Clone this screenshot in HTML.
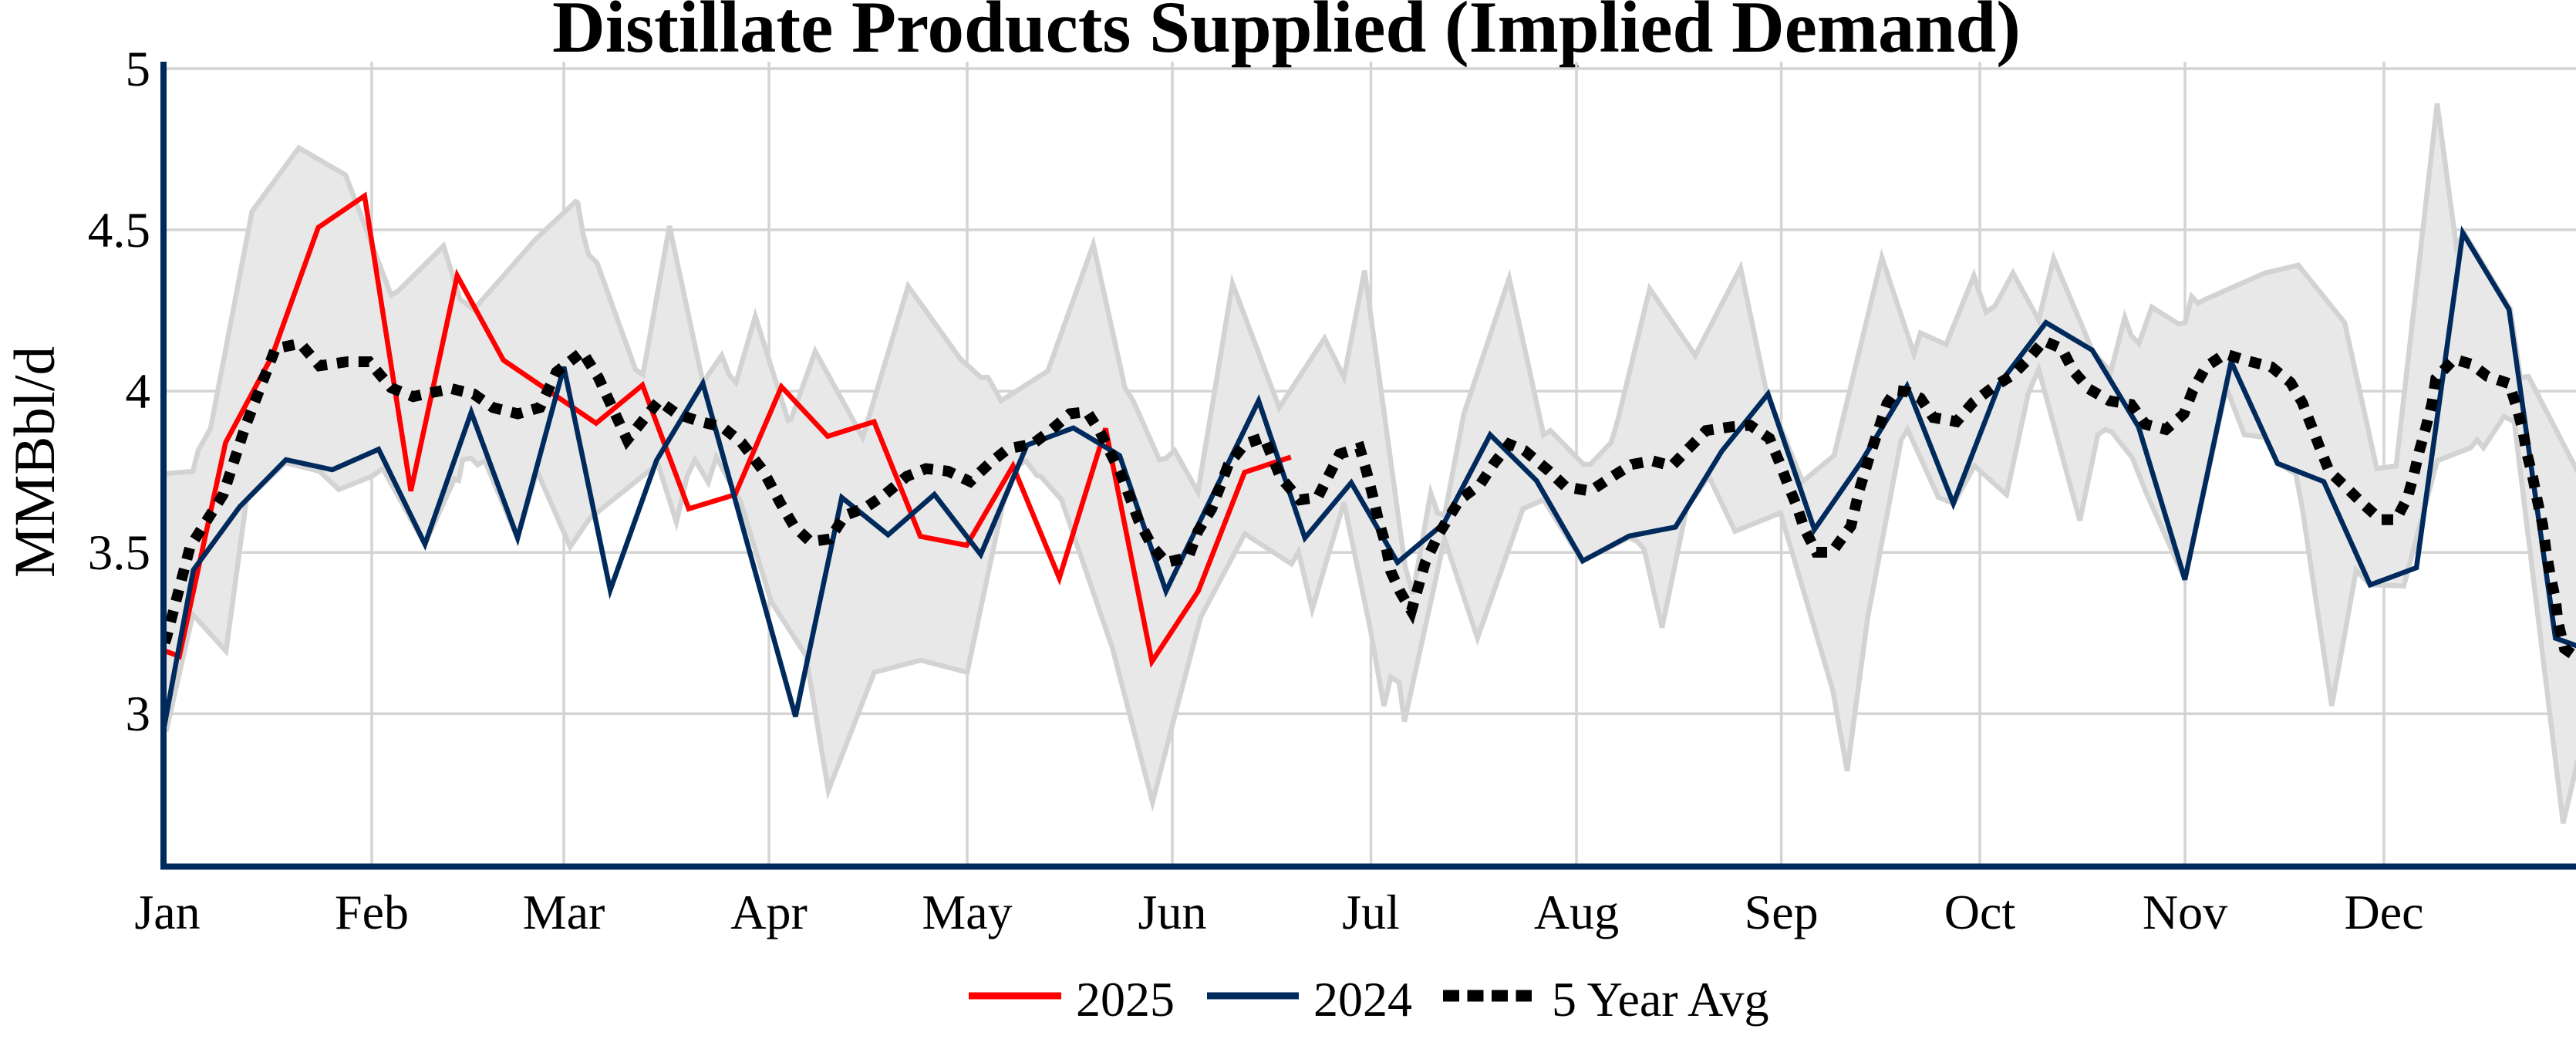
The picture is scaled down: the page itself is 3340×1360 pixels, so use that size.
<!DOCTYPE html>
<html>
<head>
<meta charset="utf-8">
<style>
  html, body { margin: 0; padding: 0; background: #ffffff; }
  svg { display: block; }
  text { font-family: "Liberation Serif", "Times New Roman", serif; fill: #000; }
</style>
</head>
<body>
<svg width="3340" height="1360" viewBox="0 0 3340 1360" xmlns="http://www.w3.org/2000/svg">
  <defs>
    <clipPath id="plot">
      <rect x="212" y="80" width="3128" height="1043"/>
    </clipPath>
  </defs>
  <rect x="0" y="0" width="3340" height="1360" fill="#ffffff"/>

  <!-- Title -->
  <text x="1668" y="67" text-anchor="middle" font-size="95" font-weight="bold">Distillate Products Supplied (Implied Demand)</text>

  <!-- Gridlines -->
  <g stroke="#d4d4d4" stroke-width="3.5" fill="none">
    <line x1="214" y1="89" x2="3340" y2="89"/>
    <line x1="214" y1="298" x2="3340" y2="298"/>
    <line x1="214" y1="507.1" x2="3340" y2="507.1"/>
    <line x1="214" y1="716.2" x2="3340" y2="716.2"/>
    <line x1="214" y1="925.3" x2="3340" y2="925.3"/>
    <line x1="482" y1="80" x2="482" y2="1121"/>
    <line x1="731" y1="80" x2="731" y2="1121"/>
    <line x1="997" y1="80" x2="997" y2="1121"/>
    <line x1="1254" y1="80" x2="1254" y2="1121"/>
    <line x1="1520" y1="80" x2="1520" y2="1121"/>
    <line x1="1777.5" y1="80" x2="1777.5" y2="1121"/>
    <line x1="2044" y1="80" x2="2044" y2="1121"/>
    <line x1="2309.6" y1="80" x2="2309.6" y2="1121"/>
    <line x1="2567" y1="80" x2="2567" y2="1121"/>
    <line x1="2833" y1="80" x2="2833" y2="1121"/>
    <line x1="3091" y1="80" x2="3091" y2="1121"/>
  </g>

  <g clip-path="url(#plot)">
    <!-- Range band fill -->
    <polygon fill="#e8e8e8" stroke="none" points="
205,614 216,614 250,611 257,584 273,555.5 326.8,274 387.5,191.7 448.2,227 507,382.4 516,377.6 575,318.8 596.4,387.8 614.3,401.3 694.6,310 746.4,261.3 749,262.7 756,303.3 763.2,330.3 774,340.5 824,479 833.6,485.8 868,293 911.4,496 935.7,460.8 945.4,485.8 954.3,496 979.3,410 1022,545.3 1025.7,543.3 1057,455.4 1118.6,567 1177.5,371 1245.4,465.5 1272,489.2 1281,489.2 1298,519.6 1358.6,481 1417.5,316.8 1458.6,502.7 1469.3,519.6 1503.2,596 1512,594 1523,584 1553.2,638 1598,367.5 1658.6,528.4 1717.5,438.5 1742.5,489.2 1769.3,350.6 1822,735 1832,770 1855,639 1864,665 1873,668 1898,536.5 1956.8,360.7 2001.4,563.6 2010.4,558.2 2053.2,602 2062,602 2089,573.7 2098,543.3 2139,374.3 2198,460.8 2256.8,347.2 2290.7,509.5 2337,624.4 2378,590.6 2440,333.7 2481.7,458.8 2490,431.7 2523.3,446.6 2559.3,357.4 2575,404.7 2586.7,396.6 2610,354 2643.3,414.8 2662.7,335 2713.3,455.4 2736.7,482.4 2755,411.4 2763.3,435 2773.3,445.3 2790,398 2825,420.2 2833.3,418.2 2841.7,384.4 2850,393.2 2860,387.8 2936.7,354 2980,343.8 3040,418.2 3081.7,607.5 3106.7,604 3160,134.2 3185,320.2 3195,302 3255,401.3 3268,490 3278.3,488 3345,617
3345,975 3323.3,1067.3 3260,546.7 3246.7,540 3220,580.5 3211.7,570.3 3203.3,580.5 3160,597.4 3116.7,759.7 3073,758.3 3055,739.4 3023.3,915.2 2985,658.2 2976.7,614.3 2953,600.8 2936.7,567 2910,563.6 2886.7,502.7 2833,751.5 2781.7,636.6 2765,594 2738.3,560.2 2730,556.8 2720,563.6 2696.7,675 2643.3,479 2630,509.5 2601.7,641.3 2560,604 2533.3,652.8 2513.3,644.7 2473.3,556.8 2465,570.3 2421.7,800.2 2395,999.7 2376.4,895 2308.6,665 2249.6,688.7 2215.7,617.7 2187,658.2 2155,813.7 2131.8,712.3 2123,702.2 2112.3,697 2051.4,727.2 2001.4,648 1974.6,659.6 1915.7,827.3 1873,698.8 1840,849 1821,935.4 1814,884.7 1803.2,878 1794.3,915.2 1776.4,813.7 1742.5,651.5 1701.4,790 1683.6,715.7 1674.6,731.2 1614,692 1556.8,800.2 1523,928.7 1494.3,1040 1442.5,840.8 1376.4,648 1349.6,617.7 1344.3,616.3 1330,597.4 1319.3,604 1300,655 1254,871.6 1194,856 1133.6,871.6 1074,1025 1045,850 1000,780 960,650 928.7,592.7 918.4,625.4 901.2,596.2 891,616.8 877,677 853,601.3 765,671.8 760,678.5 739.3,709 696.4,611 670.7,697.5 628.6,597.4 619.6,602.8 610.7,594 600,596 594.6,623 589.3,621 550.7,705.6 496.4,607.5 482,617.7 439.3,634.6 414.3,611 370,600 319.6,648 293,844.2 250,796.8 216,945.6 205,945.6"/>

    <!-- Range band edges -->
    <g fill="none" stroke="#d3d3d3" stroke-width="6.5">
      <polyline points="205,614 216,614 250,611 257,584 273,555.5 326.8,274 387.5,191.7 448.2,227 507,382.4 516,377.6 575,318.8 596.4,387.8 614.3,401.3 694.6,310 746.4,261.3 749,262.7 756,303.3 763.2,330.3 774,340.5 824,479 833.6,485.8 868,293 911.4,496 935.7,460.8 945.4,485.8 954.3,496 979.3,410 1022,545.3 1025.7,543.3 1057,455.4 1118.6,567 1177.5,371 1245.4,465.5 1272,489.2 1281,489.2 1298,519.6 1358.6,481 1417.5,316.8 1458.6,502.7 1469.3,519.6 1503.2,596 1512,594 1523,584 1553.2,638 1598,367.5 1658.6,528.4 1717.5,438.5 1742.5,489.2 1769.3,350.6 1822,735 1832,770 1855,639 1864,665 1873,668 1898,536.5 1956.8,360.7 2001.4,563.6 2010.4,558.2 2053.2,602 2062,602 2089,573.7 2098,543.3 2139,374.3 2198,460.8 2256.8,347.2 2290.7,509.5 2337,624.4 2378,590.6 2440,333.7 2481.7,458.8 2490,431.7 2523.3,446.6 2559.3,357.4 2575,404.7 2586.7,396.6 2610,354 2643.3,414.8 2662.7,335 2713.3,455.4 2736.7,482.4 2755,411.4 2763.3,435 2773.3,445.3 2790,398 2825,420.2 2833.3,418.2 2841.7,384.4 2850,393.2 2860,387.8 2936.7,354 2980,343.8 3040,418.2 3081.7,607.5 3106.7,604 3160,134.2 3185,320.2 3195,302 3255,401.3 3268,490 3278.3,488 3345,617"/>
      <polyline points="205,945.6 216,945.6 250,796.8 293,844.2 319.6,648 370,600 414.3,611 439.3,634.6 482,617.7 496.4,607.5 550.7,705.6 589.3,621 594.6,623 600,596 610.7,594 619.6,602.8 628.6,597.4 670.7,697.5 696.4,611 739.3,709 760,678.5 765,671.8 853,601.3 877,677 891,616.8 901.2,596.2 918.4,625.4 928.7,592.7 960,650 1000,780 1045,850 1074,1025 1133.6,871.6 1194,856 1254,871.6 1300,655 1319.3,604 1330,597.4 1344.3,616.3 1349.6,617.7 1376.4,648 1442.5,840.8 1494.3,1040 1523,928.7 1556.8,800.2 1614,692 1674.6,731.2 1683.6,715.7 1701.4,790 1742.5,651.5 1776.4,813.7 1794.3,915.2 1803.2,878 1814,884.7 1821,935.4 1840,849 1873,698.8 1915.7,827.3 1974.6,659.6 2001.4,648 2051.4,727.2 2112.3,697 2123,702.2 2131.8,712.3 2155,813.7 2187,658.2 2215.7,617.7 2249.6,688.7 2308.6,665 2376.4,895 2395,999.7 2421.7,800.2 2465,570.3 2473.3,556.8 2513.3,644.7 2533.3,652.8 2560,604 2601.7,641.3 2630,509.5 2643.3,479 2696.7,675 2720,563.6 2730,556.8 2738.3,560.2 2765,594 2781.7,636.6 2833,751.5 2886.7,502.7 2910,563.6 2936.7,567 2953,600.8 2976.7,614.3 2985,658.2 3023.3,915.2 3055,739.4 3073,758.3 3116.7,759.7 3160,597.4 3203.3,580.5 3211.7,570.3 3220,580.5 3246.7,540 3260,546.7 3323.3,1067.3 3345,975"/>
    </g>

    <!-- 2025 -->
    <polyline fill="none" stroke="#ff0000" stroke-width="6.5" points="172.4,828 232.5,851 292.5,573.7 352.6,462 412.6,295 472.7,254 532.7,636.6 592.8,357.4 652.8,467 712.9,507.8 772.9,548.7 833,499.3 893,659.6 953.1,641.3 1013.2,501.4 1073.2,565.6 1133.3,546.7 1193.3,695.4 1253.4,707 1313.4,604 1373.5,749.5 1433.5,555.5 1493.6,857.7 1553.6,766.4 1613.7,612.3 1673.7,592.6"/>

    <!-- 2024 -->
    <polyline fill="none" stroke="#002a5c" stroke-width="6.5" points="190.7,1061 250.7,739 310.8,657 370.8,596 430.9,609 490.9,582.5 551,705.6 611,534.5 671.1,697.5 731.1,475.7 791.2,765 851.2,597 911.3,497 971.3,713 1031.4,929 1091.4,645 1151.5,693.4 1211.5,641 1271.6,719 1331.6,577 1391.7,554.8 1451.7,590.6 1511.8,766.4 1571.8,643 1631.9,519.6 1691.9,697.5 1752,625.8 1812,729.2 1872.1,678.5 1932.1,563.6 1992.2,623.1 2052.2,727.2 2112.3,695 2172.3,683.3 2232.4,585 2292.4,510.8 2352.5,686.6 2412.5,600 2472.6,500.7 2532.6,652.8 2592.7,497.3 2652.7,418.2 2712.8,454 2772.8,553.4 2832.9,751.5 2892.9,468.9 2953,600.8 3013,624.4 3073.1,758.3 3133.1,736 3193.2,301.9 3253.2,401.3 3313.3,827.3 3373.3,849"/>

    <!-- 5 Year Avg -->
    <polyline fill="none" stroke="#000000" stroke-width="14" stroke-dasharray="15 13" points="205,860 216.1,825.9 246.4,709 289.3,641.3 317.9,553.4 357.1,452 389.3,445.3 414.3,474.3 450,469 478.6,469 507.1,502.7 535.7,514.2 557.1,509.5 585.7,504 614.3,510.8 639.3,528.4 671.4,536.5 700,528.4 721.4,482.4 755,456 775.7,489.2 813.2,570.3 854.3,519.6 877.5,536.5 907.9,546.7 936.4,553.4 961.4,573.7 990,610.9 1011.4,651.5 1029.3,681.9 1050.7,702.2 1075.7,698.8 1095.4,668.4 1122.1,658.2 1147.1,641.3 1175.7,617.6 1200.7,607.5 1229.3,610.9 1257.9,624.4 1282.9,600.8 1306.8,581.8 1338.9,575.7 1362.1,558.2 1387.1,536.5 1409.3,533.8 1426.4,560.2 1453.2,614.3 1476.4,675.1 1494.3,708.9 1512.1,729.2 1540.7,722.5 1553.2,688.7 1571.1,659.6 1592.5,602.8 1613.9,575.7 1638.9,567 1660.4,619 1685.4,648.1 1708.6,644.7 1722.9,616.3 1737.1,588.6 1762.9,580.5 1772.1,612.3 1780,643.4 1787.1,673.8 1796.1,704.2 1803.2,740.7 1815.7,767.8 1830,792.1 1847.9,729.2 1865.7,692 1892.5,648.1 1919.3,627.8 1937.1,600.8 1956.8,575.8 1976.4,583.9 2008.6,610.9 2030,631.2 2062.1,636.6 2090.7,617.7 2115.7,602.1 2142.5,597.4 2167.5,604.1 2187.1,583.9 2212.1,558.2 2244.3,553.4 2269.3,551.4 2294.3,568.3 2308.6,602.8 2319.3,631.2 2330,656.9 2338.9,683.9 2355,716 2375,716 2400,682 2410,637.9 2423.3,594 2433.3,563.6 2446.7,523 2458.3,506.1 2473.3,508.1 2490,516.2 2506.7,541.3 2526.7,544.7 2536.7,546.7 2558.3,521.7 2583.3,502.7 2610,485.8 2630,465.5 2650,441.9 2673.3,452 2688.3,481.1 2708.3,504.1 2735,519.6 2763.3,524.4 2781.7,550.1 2808.3,556.8 2831.7,536.5 2843.3,506.1 2860,475.7 2885,458.8 2913.3,467.6 2945,475.7 2970,496 2985,521.7 2996.7,551.4 3008.3,581.8 3020,610.9 3040,629.8 3063.3,652.8 3086.7,673.8 3106.7,673.8 3121.7,644.7 3130,614.3 3136.7,585.2 3145,555.5 3153.3,523 3158.3,490.6 3181.7,465.5 3205,472.3 3225,487.9 3253.3,497.3 3263.3,528.4 3270.7,556.8 3276.7,589.3 3284,619 3289.3,646.1 3296.7,679.9 3300.7,711 3306.7,746.1 3313.3,776.6 3316.7,807 3325,840.8 3345,855"/>
  </g>

  <!-- Axes -->
  <line x1="212" y1="80" x2="212" y2="1127" stroke="#002a5c" stroke-width="8"/>
  <line x1="208" y1="1123.5" x2="3340" y2="1123.5" stroke="#002a5c" stroke-width="8"/>

  <!-- Y tick labels -->
  <g font-size="65" text-anchor="end">
    <text x="195" y="111">5</text>
    <text x="195" y="320">4.5</text>
    <text x="195" y="529">4</text>
    <text x="195" y="738">3.5</text>
    <text x="195" y="947">3</text>
  </g>

  <!-- Y axis title -->
  <text transform="translate(70,599) rotate(-90)" text-anchor="middle" font-size="75">MMBbl/d</text>

  <!-- X tick labels -->
  <g font-size="64" text-anchor="middle">
    <text x="217" y="1204">Jan</text>
    <text x="482" y="1204">Feb</text>
    <text x="731" y="1204">Mar</text>
    <text x="997" y="1204">Apr</text>
    <text x="1254" y="1204">May</text>
    <text x="1520" y="1204">Jun</text>
    <text x="1777.5" y="1204">Jul</text>
    <text x="2044" y="1204">Aug</text>
    <text x="2309.6" y="1204">Sep</text>
    <text x="2567" y="1204">Oct</text>
    <text x="2833" y="1204">Nov</text>
    <text x="3091" y="1204">Dec</text>
  </g>

  <!-- Legend -->
  <line x1="1256" y1="1291" x2="1376" y2="1291" stroke="#ff0000" stroke-width="9"/>
  <text x="1395" y="1317" font-size="64">2025</text>
  <line x1="1565" y1="1291" x2="1684" y2="1291" stroke="#002a5c" stroke-width="9"/>
  <text x="1703" y="1317" font-size="64">2024</text>
  <line x1="1871" y1="1291" x2="1986" y2="1291" stroke="#000000" stroke-width="15" stroke-dasharray="21 10.5"/>
  <text x="2012" y="1317" font-size="64">5 Year Avg</text>
</svg>
</body>
</html>
